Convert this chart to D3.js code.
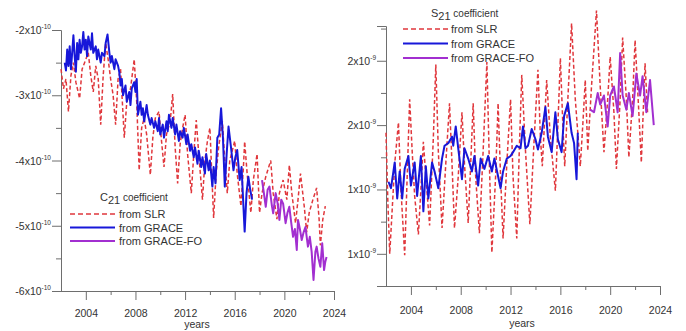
<!DOCTYPE html>
<html><head><meta charset="utf-8">
<script src="https://cdn.jsdelivr.net/npm/d3@7/dist/d3.min.js"></script>
<style>
html,body{margin:0;padding:0;background:#fff;}
svg{display:block;font-family:"Liberation Sans",Arial,sans-serif;}
</style></head>
<body><svg id="chart" width="686" height="331"></svg>
<script>
// ---------- Data ----------
const yearTicks = [2004, 2008, 2012, 2016, 2020, 2024];
const yearMinorTicks = [2006, 2010, 2014, 2018, 2022];

// C21 (units of 1e-10)
const c21TickVals = [-2, -3, -4, -5, -6];
const c21TickMant = ["-2", "-3", "-4", "-5", "-6"];
const c21TickExp = "-10";
const c21MinorTicks = [-2.5, -3.5, -4.5, -5.5];

const c21SlrT = [2002.0,2002.2,2002.4,2002.6,2002.8,2003.0,2003.2,2003.5,2003.7,2004.0,2004.2,2004.4,2004.6,2004.8,2005.0,2005.2,2005.4,2005.6,2005.8,2006.0,2006.2,2006.4,2006.6,2006.8,2007.1,2007.3,2007.6,2007.9,2008.1,2008.3,2008.5,2008.7,2008.9,2009.2,2009.4,2009.6,2009.9,2010.1,2010.3,2010.5,2010.8,2011.0,2011.2,2011.4,2011.6,2011.8,2012.0,2012.2,2012.5,2012.7,2012.9,2013.1,2013.4,2013.6,2013.8,2014.0,2014.15,2014.3,2014.5,2014.7,2015.0,2015.2,2015.4,2015.6,2015.8,2016.0,2016.2,2016.5,2016.7,2016.8,2017.0,2017.3,2017.5,2017.8,2018.0,2018.2,2018.5,2018.9,2019.1,2019.4,2019.6,2019.9,2020.2,2020.4,2020.6,2020.9,2021.1,2021.3,2021.6,2021.8,2022.0,2022.3,2022.6,2022.8,2022.9,2023.1,2023.3];
const c21SlrV = [-2.60,-2.90,-2.75,-3.25,-2.70,-2.50,-2.80,-3.05,-2.60,-2.45,-2.35,-2.70,-2.95,-2.55,-2.75,-3.45,-2.70,-2.20,-2.45,-2.75,-3.00,-3.45,-2.75,-2.60,-3.65,-3.10,-2.90,-2.45,-3.10,-4.15,-3.50,-3.35,-3.60,-4.22,-3.65,-3.35,-3.25,-3.70,-4.10,-3.60,-3.40,-2.98,-3.80,-4.35,-3.75,-3.50,-3.30,-3.90,-4.50,-3.90,-3.38,-3.90,-4.60,-4.00,-3.70,-3.50,-4.20,-4.88,-4.20,-3.80,-3.40,-4.00,-4.50,-4.00,-3.85,-3.70,-4.20,-4.70,-4.10,-3.71,-4.20,-4.80,-4.30,-3.90,-4.80,-4.50,-4.25,-4.00,-4.50,-4.90,-4.50,-4.30,-4.60,-4.07,-4.50,-4.96,-4.60,-4.20,-4.70,-5.10,-4.80,-4.60,-4.42,-4.90,-5.30,-4.90,-4.70];

const c21GraceT = [2002.3,2002.4,2002.5,2002.6,2002.7,2002.8,2002.9,2003.0,2003.1,2003.2,2003.3,2003.4,2003.5,2003.6,2003.7,2003.8,2003.9,2004.0,2004.1,2004.2,2004.4,2004.5,2004.6,2004.8,2004.9,2005.0,2005.2,2005.3,2005.5,2005.6,2005.75,2005.9,2006.0,2006.1,2006.3,2006.4,2006.6,2006.7,2006.8,2006.9,2007.0,2007.2,2007.3,2007.5,2007.6,2007.7,2007.9,2008.0,2008.1,2008.2,2008.4,2008.5,2008.6,2008.7,2008.9,2009.0,2009.2,2009.3,2009.5,2009.6,2009.8,2009.9,2010.0,2010.2,2010.3,2010.5,2010.6,2010.7,2010.9,2011.0,2011.2,2011.3,2011.5,2011.6,2011.8,2011.9,2012.1,2012.2,2012.4,2012.5,2012.7,2012.8,2013.0,2013.1,2013.3,2013.4,2013.6,2013.7,2013.9,2014.0,2014.2,2014.3,2014.45,2014.6,2014.75,2014.9,2015.05,2015.2,2015.35,2015.5,2015.7,2015.9,2016.05,2016.2,2016.4,2016.55,2016.8,2016.95,2017.1,2017.25,2017.4];
const c21GraceV = [-2.50,-2.62,-2.30,-2.55,-2.25,-2.60,-2.35,-2.08,-2.40,-2.64,-2.20,-2.45,-2.15,-2.35,-2.25,-2.03,-2.30,-2.15,-2.40,-2.10,-2.30,-2.05,-2.35,-2.25,-2.45,-2.30,-2.50,-2.35,-2.40,-2.20,-2.07,-2.35,-2.50,-2.40,-2.60,-2.45,-2.55,-2.65,-2.85,-2.75,-3.00,-2.85,-3.10,-2.95,-3.15,-2.90,-2.80,-2.95,-2.75,-3.30,-3.10,-3.30,-3.20,-3.40,-3.15,-3.30,-3.45,-3.35,-3.50,-3.40,-3.55,-3.35,-3.60,-3.45,-3.65,-3.40,-3.55,-3.30,-3.50,-3.35,-3.60,-3.45,-3.70,-3.55,-3.65,-3.50,-3.75,-3.60,-3.85,-3.75,-3.95,-3.80,-4.05,-3.85,-4.10,-3.95,-4.20,-3.90,-4.15,-4.00,-4.40,-4.10,-4.35,-3.65,-3.60,-3.20,-3.65,-4.40,-3.90,-3.48,-3.80,-4.15,-3.95,-3.84,-4.30,-4.10,-5.09,-4.50,-4.25,-4.45,-4.60];

const c21FoT = [2018.2,2018.35,2018.5,2018.65,2018.8,2019.0,2019.1,2019.3,2019.45,2019.6,2019.75,2019.9,2020.1,2020.25,2020.4,2020.55,2020.7,2020.85,2021.0,2021.1,2021.25,2021.4,2021.55,2021.7,2021.9,2022.05,2022.2,2022.35,2022.5,2022.6,2022.75,2022.9,2023.05,2023.2,2023.3,2023.4];
const c21FoV = [-4.30,-4.50,-4.71,-4.45,-4.40,-4.70,-4.81,-4.50,-4.65,-4.91,-4.60,-4.66,-4.96,-4.80,-4.71,-4.95,-5.17,-5.05,-5.37,-4.91,-5.05,-5.22,-5.10,-5.02,-5.32,-5.17,-5.40,-5.83,-5.40,-5.32,-5.50,-5.63,-5.27,-5.68,-5.55,-5.48];

// S21 (units as labelled, 1e-9)
const s21TickVals = [2.0, 1.5, 1.0, 0.5];
const s21TickMant = ["2", "2", "1", "1"];
const s21TickExp = "-9";
const s21MinorTicks = [2.25, 1.75, 1.25, 0.75, 0.25];

const s21SlrT = [2002.0,2002.15,2002.3,2002.5,2002.7,2003.0,2003.2,2003.5,2003.7,2003.9,2004.1,2004.3,2004.6,2004.8,2005.0,2005.2,2005.5,2005.8,2006.0,2006.2,2006.5,2006.8,2007.1,2007.3,2007.5,2007.8,2008.1,2008.3,2008.6,2008.8,2009.0,2009.2,2009.5,2009.8,2010.1,2010.3,2010.5,2010.8,2011.0,2011.2,2011.4,2011.7,2012.0,2012.2,2012.5,2012.7,2012.9,2013.2,2013.55,2013.9,2014.2,2014.4,2014.55,2014.9,2015.2,2015.6,2015.8,2016.0,2016.2,2016.35,2016.6,2016.9,2017.2,2017.6,2017.8,2018.0,2018.2,2018.5,2018.9,2019.2,2019.5,2019.8,2020.0,2020.3,2020.5,2020.8,2021.0,2021.3,2021.5,2021.8,2022.0,2022.3,2022.5,2022.65,2022.8,2023.0];
const s21SlrV = [1.44,0.90,0.50,0.85,1.20,1.52,1.00,0.49,1.10,1.70,1.30,0.95,0.65,1.00,1.37,1.10,0.72,1.40,1.97,1.30,0.70,1.20,1.67,1.20,0.70,1.10,1.60,1.20,0.74,1.20,1.67,1.10,0.66,1.30,1.99,1.20,0.51,1.10,1.67,1.10,0.62,1.20,1.70,1.10,0.62,1.30,1.89,1.30,0.73,1.40,1.93,1.40,1.18,1.85,1.40,0.99,1.50,2.02,1.50,1.18,1.70,2.29,1.70,1.18,1.50,1.85,1.30,1.80,2.39,1.80,1.29,1.70,2.03,1.60,1.16,1.70,2.18,1.70,1.25,1.70,2.16,1.60,1.21,1.60,1.98,1.60];

const s21GraceT = [2002.2,2002.4,2002.7,2002.9,2003.1,2003.3,2003.5,2003.8,2004.0,2004.3,2004.5,2004.8,2005.0,2005.2,2005.4,2005.7,2005.9,2006.2,2006.5,2006.7,2007.0,2007.3,2007.4,2007.6,2007.8,2008.1,2008.3,2008.6,2008.9,2009.1,2009.4,2009.6,2009.9,2010.2,2010.5,2010.7,2011.2,2011.4,2011.7,2012.0,2012.2,2012.5,2012.8,2013.0,2013.2,2013.4,2013.7,2014.0,2014.2,2014.5,2014.8,2015.0,2015.3,2015.6,2015.8,2016.1,2016.3,2016.6,2016.9,2017.1,2017.3,2017.4];
const s21GraceV = [1.06,1.01,1.21,0.93,1.14,0.93,1.16,1.26,1.03,1.21,0.95,1.26,0.83,1.18,0.93,1.21,1.14,1.01,1.24,1.34,1.36,1.41,1.34,1.49,1.32,1.08,1.32,1.24,1.14,1.26,1.03,1.24,1.16,1.26,1.14,1.24,1.01,1.14,1.24,1.26,1.29,1.34,1.32,1.49,1.32,1.34,1.47,1.39,1.31,1.44,1.64,1.41,1.29,1.60,1.39,1.29,1.57,1.67,1.44,1.36,1.08,1.44];

const s21FoT = [2018.4,2018.7,2019.0,2019.2,2019.5,2019.8,2020.0,2020.3,2020.6,2020.8,2021.0,2021.3,2021.5,2021.8,2022.1,2022.4,2022.6,2022.9,2023.2,2023.5];
const s21FoV = [1.62,1.60,1.75,1.66,1.73,1.49,1.73,1.80,1.60,2.06,1.73,1.62,1.75,1.57,1.90,1.73,1.88,1.60,1.85,1.50];

const legendLabels = ["from SLR", "from GRACE", "from GRACE-FO"];

// ---------- Styles ----------
const AX = "#6e6e6e", TXT = "#333";
const RED = "#e0373c", BLUE = "#1717d9", PURPLE = "#a22fd0";

const svg = d3.select("#chart");

function panel(cfg) {
  const g = svg.append("g");
  const x = d3.scaleLinear().domain([2002, 2024]).range(cfg.xRange);
  const y = d3.scaleLinear().domain(cfg.yDomain).range(cfg.yRange);
  const x0 = cfg.xRange[0], yBot = cfg.yRange[0];

  // y axis major
  const ya = g.append("g").attr("transform", `translate(${x0},0)`)
    .call(d3.axisLeft(y).tickValues(cfg.yTicks).tickSize(9).tickFormat(""));
  ya.selectAll("text").remove();
  g.append("g").attr("transform", `translate(${x0},0)`)
    .call(d3.axisLeft(y).tickValues(cfg.yMinor).tickSize(5).tickFormat(""))
    .call(s => s.select(".domain").remove());
  // y labels with superscript
  const lab = g.append("g");
  cfg.yTicks.forEach((v, i) => {
    const t = lab.append("text").attr("x", x0 - 10).attr("y", y(v) + 4)
      .attr("text-anchor", "end").attr("font-size", 10.5).attr("fill", TXT);
    t.append("tspan").text(cfg.yMant[i] + "x10");
    t.append("tspan").attr("font-size", 6.5).attr("dy", -5).text(cfg.yExp);
  });

  // x axis
  const xa = g.append("g").attr("transform", `translate(0,${yBot})`)
    .call(d3.axisBottom(x).tickValues(yearTicks).tickSize(9).tickFormat(d3.format("d")));
  xa.select(".domain").attr("d", `M${x0 - 9},0.5H${cfg.xRange[1]}`);
  xa.selectAll("text").attr("y", cfg.labOff).attr("dy", 0).attr("font-size", 10.5)
    .attr("fill", TXT).attr("font-family", "Liberation Sans, Arial, sans-serif");
  g.append("g").attr("transform", `translate(0,${yBot})`)
    .call(d3.axisBottom(x).tickValues(yearMinorTicks).tickSize(4).tickFormat(""))
    .call(s => s.select(".domain").remove());
  g.selectAll(".domain, .tick line").attr("stroke", AX);

  g.append("text").attr("x", cfg.yearsX).attr("y", cfg.yearsY).attr("text-anchor", "middle")
    .attr("font-size", 10.5).attr("fill", TXT).text("years");

  const line = (T, V) => d3.line().x((d, i) => x(T[i])).y((d, i) => y(V[i]))(V);
  g.append("path").attr("d", line(cfg.slrT, cfg.slrV)).attr("fill", "none")
    .attr("stroke", RED).attr("stroke-width", 1.5).attr("stroke-dasharray", "4,2.5");
  g.append("path").attr("d", line(cfg.grT, cfg.grV)).attr("fill", "none")
    .attr("stroke", BLUE).attr("stroke-width", 2).attr("stroke-linejoin", "round");
  g.append("path").attr("d", line(cfg.foT, cfg.foV)).attr("fill", "none")
    .attr("stroke", PURPLE).attr("stroke-width", 2).attr("stroke-linejoin", "round");

  // legend
  const L = cfg.leg;
  const tt = g.append("text").attr("x", L.titleX).attr("y", L.titleY).attr("font-size", 11).attr("fill", TXT);
  tt.append("tspan").text(cfg.letter);
  tt.append("tspan").attr("dy", 3).text("21");
  tt.append("tspan").attr("dy", -3).attr("font-size", 10).text(" coefficient");
  const cols = [RED, BLUE, PURPLE];
  legendLabels.forEach((s, i) => {
    const yy = L.rows[i];
    const ln = g.append("line").attr("x1", L.x1).attr("x2", L.x2).attr("y1", yy).attr("y2", yy)
      .attr("stroke", cols[i]).attr("stroke-width", i === 0 ? 1.5 : 2);
    if (i === 0) ln.attr("stroke-dasharray", "5,3");
    g.append("text").attr("x", L.tx).attr("y", yy + 4).attr("font-size", 11).attr("fill", TXT).text(s);
  });
}

panel({
  xRange: [61, 334], yDomain: [-6, -2], yRange: [291, 30],
  yTicks: c21TickVals, yMant: c21TickMant, yExp: c21TickExp, yMinor: c21MinorTicks,
  labOff: 26, yearsX: 197, yearsY: 328,
  slrT: c21SlrT, slrV: c21SlrV, grT: c21GraceT, grV: c21GraceV, foT: c21FoT, foV: c21FoV,
  letter: "C",
  leg: { titleX: 100, titleY: 201, rows: [214, 227.5, 241], x1: 70, x2: 115, tx: 119 }
});

panel({
  xRange: [386, 660], yDomain: [0.25, 2.27], yRange: [286, 26],
  yTicks: s21TickVals, yMant: s21TickMant, yExp: s21TickExp, yMinor: s21MinorTicks,
  labOff: 27.5, yearsX: 522, yearsY: 327,
  slrT: s21SlrT, slrV: s21SlrV, grT: s21GraceT, grV: s21GraceV, foT: s21FoT, foV: s21FoV,
  letter: "S",
  leg: { titleX: 431, titleY: 17, rows: [29, 43.5, 58], x1: 403, x2: 448, tx: 451 }
});
</script></body></html>
